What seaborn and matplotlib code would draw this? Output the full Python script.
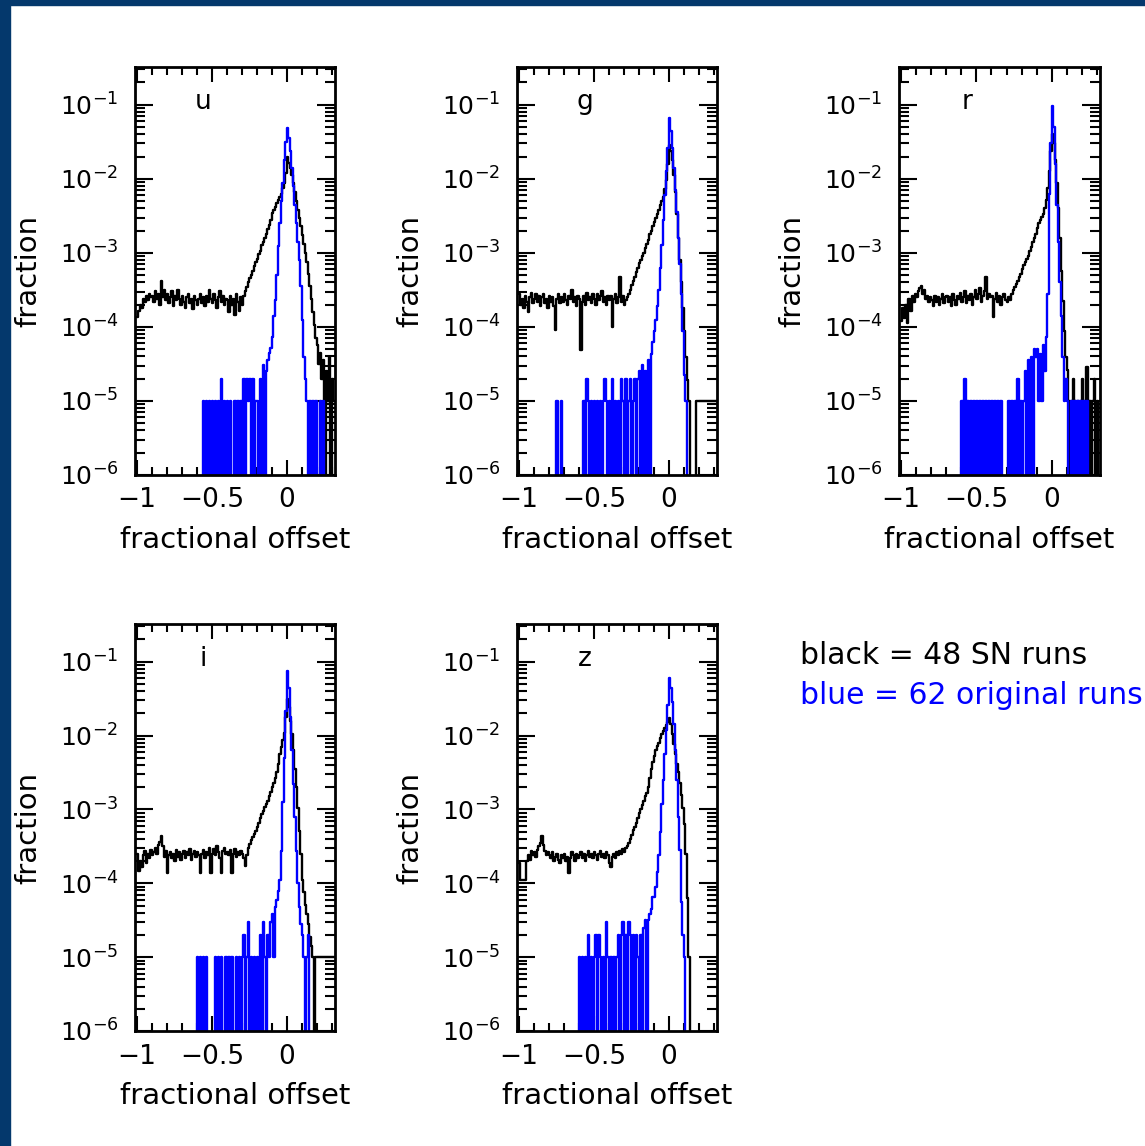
import numpy as np
import pandas as pd
import matplotlib
matplotlib.use("Agg")
import matplotlib.pyplot as plt
import seaborn as sns
from matplotlib.ticker import MultipleLocator, LogLocator, NullFormatter
from matplotlib.patches import Rectangle

# ---------------- data (log10 of fraction per 0.01-wide bin, -1.00 .. 0.32) -------------
Z = -9.0                       # empty bin
BIN_LO, BIN_HI, NBINS = -1.0, 0.32, 132
bands = ["u", "g", "r", "i", "z"]
x_ticks = [-1.0, -0.5, 0.0]
x_tick_labels = ["\u22121", "\u22120.5", "0"]
legend_lines = ["black = 48 SN runs", "blue = 62 original runs"]

u_black = [
    -3.86, -3.78, -3.70, -3.74, -3.62, -3.66, -3.58, -3.64, -3.55, -3.60,
    -3.58, -3.66, -3.52, -3.62, -3.55, -3.70, -3.38, -3.60, -3.50, -3.64,
    -3.56, -3.68, -3.60, -3.52, -3.72, -3.58, -3.64, -3.50, -3.62, -3.70,
    -3.58, -3.66, -3.74, -3.60, -3.55, -3.68, -3.62, -3.76, -3.58, -3.64,
    -3.70, -3.62, -3.55, -3.68, -3.60, -3.72, -3.58, -3.66, -3.50, -3.62,
    -3.68, -3.56, -3.64, -3.74, -3.60, -3.52, -3.66, -3.58, -3.70, -3.62,
    -3.64, -3.80, -3.58, -3.70, -3.62, -3.84, -3.56, -3.66, -3.78, -3.60,
    -3.70, -3.58, -3.52, -3.46, -3.40, -3.34, -3.30, -3.24, -3.18, -3.13,
    -3.08, -3.02, -2.97, -2.90, -2.86, -2.80, -2.74, -2.68, -2.62, -2.56,
    -2.46, -2.42, -2.38, -2.33, -2.28, -2.24, -2.20, -2.13, -2.05, -1.92,
    -1.70, -1.78, -1.86, -1.95, -2.06, -2.18, -2.30, -2.42, -2.53, -2.64,
    -2.76, -2.88, -3.00, -3.12, -3.28, -3.45, -3.62, -3.80, -3.98, -4.15,
    -4.25, -4.50, -4.35, -4.70, -4.45, Z, -4.60, -5.00, -4.40, Z,
    -4.70, -5.00,
]
u_blue = [Z] * 40 + [
    Z, Z, Z, Z, -5, Z, -5, Z, -5, Z,
    -5, Z, -5, Z, -5, Z, -4.7, Z, -5, Z,
    -5, Z, -5, Z, Z, -5, Z, -5, Z, -5,
    Z, -4.7, Z, -4.7, -5, -4.7, Z, -4.7, Z, -5,
    -5, Z, -4.7, Z, -4.52, Z, -4.6, -4.45, -4.35, -4.28,
    -4.13, -3.85, -3.64, -3.30, -2.91, -2.60, -2.30, -2.05, -1.75, -1.50,
    -1.32, -1.45, -1.62, -1.85, -2.10, -2.35, -2.60, -2.85, -3.10, -3.45,
    -3.90, -4.40, -4.70, -5, Z, -5, Z, -5, Z, -5,
    Z, Z, -5, Z, -5, Z, Z, Z, Z, Z,
    Z, Z,
]

g_black = [
    -3.56, -3.70, -3.62, -3.75, -3.58, -3.66, -3.80, -3.60, -3.54, -3.68,
    -3.62, -3.55, -3.66, -3.58, -3.72, -3.60, -3.56, -3.68, -3.62, -3.74,
    -3.58, -3.66, -3.60, -3.72, -4.04, -3.62, -3.55, -3.68, -3.60, -3.66,
    -3.56, -3.64, -3.70, -3.58, -3.62, -3.50, -3.66, -3.60, -3.72, -3.58,
    -3.62, -4.31, -3.66, -3.58, -3.70, -3.54, -3.64, -3.60, -3.68, -3.56,
    -3.62, -3.70, -3.56, -3.64, -3.58, -3.52, -3.66, -3.60, -3.70, -3.58,
    -3.64, -3.58, -4.00, -3.62, -3.56, -3.68, -3.60, -3.32, -3.66, -3.58,
    -3.70, -3.64, -3.60, -3.55, -3.50, -3.44, -3.38, -3.32, -3.26, -3.20,
    -3.14, -3.10, -3.04, -3.00, -2.94, -2.88, -2.82, -2.75, -2.70, -2.64,
    -2.58, -2.53, -2.47, -2.42, -2.36, -2.30, -2.24, -2.14, -2.02, -1.80,
    -1.54, -1.62, -1.75, -1.95, -2.18, -2.48, -2.80, -3.10, -3.40, -3.75,
    -4.05, -4.40, -4.72, -5.00, Z, Z, Z, Z, -5, -5,
    -5, -5, -5, -5, -5, -5, -5, -5, -5, -5,
    -5, -5,
]
g_blue = [Z] * 20 + [
    Z, Z, Z, Z, Z, -5, Z, Z, -5, Z,
    Z, Z, Z, Z, Z, Z, Z, Z, Z, Z,
    Z, Z, Z, -5, Z, -4.7, -5, Z, -5, Z,
    -5, Z, -5, Z, -5, Z, -5, -4.7, -5, Z,
    -5, Z, -4.7, Z, -5, Z, -5, Z, -4.7, -5,
    Z, -4.7, Z, -5, -4.7, Z, -5, -4.7, Z, -4.7,
    -4.6, Z, -4.52, Z, -4.6, Z, -4.45, Z, -4.36, -4.20,
    -4.05, -3.90, -3.72, -3.50, -3.20, -2.90, -2.55, -2.22, -1.90, -1.58,
    -1.18, -1.35, -1.58, -1.85, -2.15, -2.45, -2.80, -3.15, -3.55, -4.05,
    -4.65, -5, Z, Z, Z, Z, Z, Z, Z, Z,
    Z, Z, Z, Z, Z, Z, Z, Z, Z, Z,
    Z, Z,
]

r_black = [
    -3.92, -3.75, -3.88, -3.70, -3.95, -3.62, -3.78, -3.58, -3.66, -3.55,
    -3.60, -3.52, -3.48, -3.45, -3.55, -3.50, -3.62, -3.58, -3.66, -3.60,
    -3.64, -3.72, -3.58, -3.66, -3.60, -3.70, -3.62, -3.55, -3.68, -3.60,
    -3.58, -3.66, -3.60, -3.72, -3.56, -3.64, -3.70, -3.58, -3.62, -3.54,
    -3.66, -3.60, -3.52, -3.68, -3.58, -3.64, -3.55, -3.70, -3.60, -3.50,
    -3.62, -3.56, -3.48, -3.66, -3.58, -3.52, -3.32, -3.62, -3.55, -3.60,
    -3.58, -3.86, -3.62, -3.54, -3.66, -3.58, -3.70, -3.60, -3.56, -3.64,
    -3.66, -3.60, -3.64, -3.56, -3.50, -3.46, -3.42, -3.38, -3.32, -3.28,
    -3.22, -3.16, -3.12, -3.08, -3.04, -2.98, -2.92, -2.86, -2.80, -2.74,
    -2.66, -2.60, -2.56, -2.52, -2.48, -2.40, -2.28, -2.12, -1.90, -1.62,
    -1.40, -1.52, -1.75, -2.05, -2.40, -2.80, -3.25, -3.65, -4.05, -4.40,
    -4.58, -5, Z, -5, -4.7, -5, Z, -5, Z, -5,
    -4.7, Z, -5, -4.54, Z, -5, Z, -5, -4.7, Z,
    -5, Z,
]
r_blue = [Z] * 40 + [
    -5, Z, -4.7, Z, -5, Z, -5, Z, -5, Z,
    -5, Z, -5, Z, -5, Z, -5, Z, -5, Z,
    -5, Z, -5, Z, -5, Z, -5, Z, Z, Z,
    Z, -5, Z, -5, Z, -5, Z, -4.7, Z, -5,
    Z, -5, -4.6, Z, -4.45, Z, -4.4, Z, -4.3, -4.4,
    -4.30, -5, -4.36, -5, -4.25, -4.6, -4.13, -3.55, -2.20, -1.52,
    -1.02, -1.30, -1.80, -2.35, -2.85, -3.40, -3.85, -4.40, -5, -4.7,
    -5, Z, Z, -5, Z, -5, Z, -5, Z, -5,
    Z, -5, Z, -5, Z, Z, Z, Z, Z, Z,
    Z, Z,
]

i_black = [
    -3.60, -3.83, -3.70, -3.78, -3.62, -3.56, -3.72, -3.60, -3.66, -3.55,
    -3.62, -3.58, -3.52, -3.60, -3.48, -3.44, -3.36, -3.50, -3.64, -3.56,
    -3.86, -3.62, -3.58, -3.66, -3.60, -3.70, -3.55, -3.64, -3.58, -3.68,
    -3.60, -3.56, -3.66, -3.58, -3.62, -3.54, -3.68, -3.60, -3.56, -3.64,
    -3.58, -3.62, -3.86, -3.60, -3.55, -3.66, -3.58, -3.62, -3.52, -3.86,
    -3.60, -3.54, -3.62, -3.50, -3.58, -3.66, -3.86, -3.56, -3.52, -3.60,
    -3.58, -3.62, -3.55, -3.86, -3.60, -3.54, -3.64, -3.58, -3.62, -3.56,
    -3.60, -3.66, -3.76, -3.62, -3.52, -3.47, -3.42, -3.38, -3.33, -3.29,
    -3.24, -3.18, -3.12, -3.06, -3.02, -2.97, -2.93, -2.88, -2.82, -2.76,
    -2.70, -2.64, -2.58, -2.50, -2.38, -2.25, -2.15, -2.06, -1.96, -1.75,
    -1.51, -1.62, -1.80, -1.98, -2.20, -2.45, -2.70, -2.98, -3.29, -3.60,
    -3.96, -4.12, -4.30, -4.41, -4.55, -4.73, -4.85, -5.00, Z, -5,
    -5, -5, -5, -5, -5, -5, -5, -5, -5, -5,
    -5, -5,
]
i_blue = [Z] * 40 + [
    -5, Z, -5, Z, -5, Z, -5, Z, Z, Z,
    Z, Z, -5, Z, -5, Z, -5, Z, Z, -5,
    Z, -5, Z, -5, Z, Z, -5, Z, -5, Z,
    -5, -4.7, Z, -5, -4.52, Z, -5, Z, -5, Z,
    -5, Z, -4.7, Z, -4.52, -5, Z, -4.7, -5, -4.52,
    -4.41, -5, -4.32, -4.23, -4.10, -3.95, -3.56, -2.90, -2.30, -1.67,
    -1.13, -1.35, -1.75, -2.20, -2.65, -3.10, -3.56, -4.00, -4.32, -4.55,
    -4.7, -5, Z, -5, -4.7, Z, Z, Z, Z, Z,
    Z, Z, Z, Z, Z, Z, Z, Z, Z, Z,
    Z, Z,
]

z_black = [
    -3.72, -3.96, -3.96, -3.96, -3.96, -3.70, -3.62, -3.68, -3.56, -3.62,
    -3.58, -3.64, -3.55, -3.50, -3.46, -3.36, -3.48, -3.56, -3.62, -3.58,
    -3.62, -3.66, -3.58, -3.70, -3.64, -3.60, -3.68, -3.72, -3.62, -3.66,
    -3.60, -3.70, -3.64, -3.86, -3.66, -3.58, -3.62, -3.70, -3.60, -3.66,
    -3.62, -3.58, -3.66, -3.60, -3.70, -3.62, -3.56, -3.64, -3.60, -3.66,
    -3.58, -3.62, -3.68, -3.60, -3.56, -3.64, -3.60, -3.66, -3.58, -3.62,
    -3.72, -3.78, -3.64, -3.60, -3.66, -3.58, -3.62, -3.56, -3.60, -3.54,
    -3.58, -3.52, -3.50, -3.46, -3.40, -3.34, -3.28, -3.24, -3.18, -3.12,
    -3.05, -3.00, -2.94, -2.88, -2.82, -2.78, -2.70, -2.58, -2.45, -2.36,
    -2.28, -2.20, -2.14, -2.10, -2.04, -1.98, -1.94, -1.90, -1.86, -1.82,
    -1.76, -1.85, -1.98, -2.12, -2.25, -2.38, -2.50, -2.64, -2.80, -2.98,
    -3.20, -3.60, -4.20, -5.00, Z, Z, Z, Z, Z, Z,
    Z, Z, Z, Z, Z, Z, Z, Z, Z, Z,
    Z, Z,
]
z_blue = [Z] * 40 + [
    -5, Z, -5, Z, -5, Z, -4.7, Z, -5, Z,
    -5, -4.7, Z, -4.7, -5, Z, -5, Z, -4.52, -5,
    Z, -5, Z, -5, Z, -5, -4.7, Z, -4.7, -4.52,
    Z, -4.7, Z, -4.52, -4.7, Z, -4.7, Z, -4.7, -5,
    Z, -4.7, Z, -4.6, -4.5, Z, -4.5, -4.41, -4.35, -4.19,
    -4.19, -4.05, -3.85, -3.62, -3.30, -2.93, -2.60, -2.25, -1.92, -1.58,
    -1.22, -1.35, -1.55, -1.85, -2.20, -2.60, -3.10, -3.55, -4.25, -4.70,
    -5, Z, Z, Z, Z, Z, Z, Z, Z, Z,
    Z, Z, Z, Z, Z, Z, Z, Z, Z, Z,
    Z, Z,
]

series = {
    "u": (u_black, u_blue), "g": (g_black, g_blue), "r": (r_black, r_blue),
    "i": (i_black, i_blue), "z": (z_black, z_blue),
}

# ---------------- layout ----------------
W, H = 1145, 1146
panel_px = {  # left, top, width, height in pixels
    "u": (135, 67, 200, 408), "g": (517, 67, 200, 408), "r": (899, 67, 201, 408),
    "i": (135, 624, 200, 407), "z": (517, 624, 200, 407),
}

sns.set_style("white")
plt.rcParams["font.family"] = ["DejaVu Sans"]
plt.rcParams["mathtext.fontset"] = "dejavusans"
plt.rcParams.update({
    "xtick.bottom": True, "ytick.left": True,
    "xtick.color": "black", "ytick.color": "black",
    "axes.labelcolor": "black", "text.color": "black",
})

fig = plt.figure(figsize=(W / 100, H / 100), dpi=100)
fig.patch.set_facecolor("white")

edges = np.linspace(BIN_LO, BIN_HI, NBINS + 1)

for band in bands:
    blk, blu = series[band]
    rows = []
    for name, vals in (("black", blk), ("blue", blu)):
        assert len(vals) == NBINS, (band, name, len(vals))
        v = list(vals) + [vals[-1]]
        for xe, lv in zip(edges, v):
            rows.append({"offset": xe, "fraction": 10.0 ** lv, "runs": name})
    df = pd.DataFrame(rows)

    l, t, w, h = panel_px[band]
    ax = fig.add_axes([l / W, 1 - (t + h) / H, w / W, h / H])
    sns.lineplot(data=df, x="offset", y="fraction", hue="runs",
                 hue_order=["black", "blue"],
                 palette={"black": "#000000", "blue": "#0000ff"},
                 estimator=None, sort=True, drawstyle="steps-post",
                 linewidth=1.7, legend=False, ax=ax)
    ax.set_yscale("log")
    ax.set_xlim(-1.013, 0.32)
    ax.set_ylim(1e-6, 10 ** -0.49)

    ax.set_xticks(x_ticks, x_tick_labels)
    ax.xaxis.set_minor_locator(MultipleLocator(0.1))
    ax.yaxis.set_major_locator(LogLocator(base=10, numticks=20))
    ax.yaxis.set_minor_locator(LogLocator(base=10, subs=np.arange(2, 10), numticks=20))
    ax.yaxis.set_minor_formatter(NullFormatter())

    ax.tick_params(axis="both", which="both", direction="in",
                   top=True, right=True, bottom=True, left=True,
                   width=1.5, color="black", labelcolor="black")
    ax.tick_params(axis="x", which="major", length=11, pad=9, labelsize=19)
    ax.tick_params(axis="x", which="minor", length=6)
    ax.tick_params(axis="y", which="major", length=13, pad=12, labelsize=18)
    ax.tick_params(axis="y", which="minor", length=7)

    for s in ax.spines.values():
        s.set_linewidth(2.0)
        s.set_color("black")
        s.set_zorder(5)

    ax.set_xlabel("fractional offset", fontsize=21, labelpad=9)
    ax.set_ylabel("fraction", fontsize=21, labelpad=12)
    ax.text(0.34, 0.915, band, transform=ax.transAxes, fontsize=19,
            ha="center", va="center", color="black")

fig.text(800 / W, 1 - 655 / H, legend_lines[0], color="black", fontsize=21.5,
         ha="left", va="center")
fig.text(800 / W, 1 - 695 / H, legend_lines[1], color="#0000ff", fontsize=21.5,
         ha="left", va="center")

# navy frame strips (left and top)
fig.add_artist(Rectangle((0, 0), 10 / W, 1, transform=fig.transFigure,
                         color="#04386c", zorder=10))
fig.add_artist(Rectangle((0, 1 - 5 / H), 1, 5 / H, transform=fig.transFigure,
                         color="#04386c", zorder=10))

fig.savefig("out.png", dpi=100, facecolor="white")
